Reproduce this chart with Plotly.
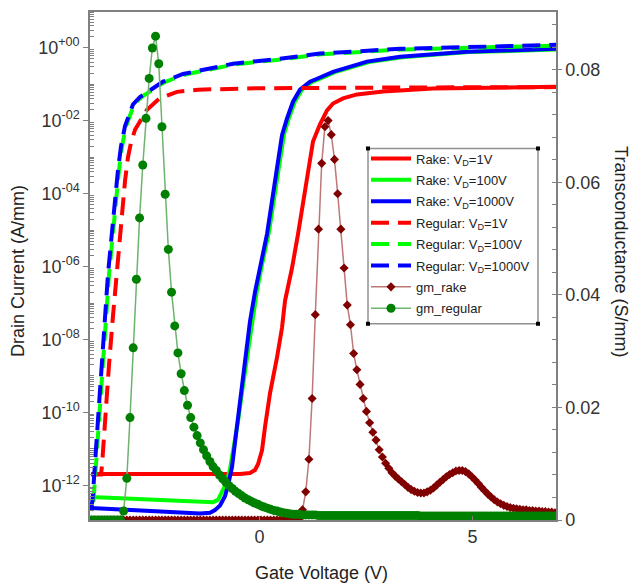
import numpy as np
import plotly.graph_objects as go

# ---------------------------------------------------------------------------
# Transfer curves: gate voltage (V) and drain current as log10(A/mm)
# ---------------------------------------------------------------------------
rake_1v_vg = [-3.955, -2.570, -0.458, -0.223, -0.106, -0.035, 0.059, 0.129, 0.246,
              0.410, 0.528, 0.599, 0.763, 0.904, 1.021, 1.139, 1.256, 1.420, 1.585,
              1.725, 1.960, 2.289, 2.899, 4.073, 5.646, 6.984]
rake_1v_log = [-11.69, -11.69, -11.69, -11.66, -11.58, -11.42, -11.04, -10.40, -9.48,
               -8.50, -7.68, -6.94, -6.04, -5.11, -4.21, -3.30, -2.57, -2.10, -1.72,
               -1.53, -1.39, -1.28, -1.20, -1.12, -1.09, -1.07]

rake_100v_vg = [-3.955, -2.570, -1.092, -0.974, -0.880, -0.786, -0.692, -0.599, -0.505,
                -0.411, -0.293, -0.176, -0.059, 0.059, 0.223, 0.340, 0.458, 0.575,
                0.692, 0.833, 0.998, 1.232, 1.397, 1.772, 2.570, 3.345, 4.918, 6.984]
rake_100v_log = [-12.32, -12.40, -12.46, -12.40, -12.20, -11.95, -11.55, -10.95, -10.25,
                 -9.45, -8.45, -7.45, -6.65, -5.95, -5.05, -4.15, -3.25, -2.38,
                 -1.92, -1.47, -1.15, -0.94, -0.86, -0.67, -0.39, -0.26, -0.12, -0.05]

rake_1000v_vg = [-3.955, -2.570, -1.397, -1.162, -1.045, -0.927, -0.810, -0.739, -0.646,
                 -0.552, -0.458, -0.340, -0.223, -0.106, 0.012, 0.176, 0.294, 0.411,
                 0.528, 0.646, 0.786, 0.951, 1.185, 1.350, 1.725, 2.523, 3.298, 4.871,
                 6.984]
rake_1000v_log = [-12.62, -12.70, -12.77, -12.75, -12.68, -12.55, -12.30, -12.00, -11.50,
                  -10.60, -9.70, -8.60, -7.50, -6.70, -6.00, -5.11, -4.20, -3.30,
                  -2.40, -1.94, -1.48, -1.15, -0.93, -0.85, -0.66, -0.38, -0.25, -0.11,
                  -0.03]

reg_1v_vg = [-3.955, -3.720, -3.697, -3.627, -3.533, -3.439, -3.345, -3.251, -3.157,
             -3.087, -3.016, -2.923, -2.782, -2.641, -2.336, -1.937, -1.444, 0.012,
             3.298, 6.984]
reg_1v_log = [-11.70, -11.70, -11.45, -10.10, -8.70, -7.35, -6.10, -4.90, -3.65,
              -3.00, -2.60, -2.25, -1.95, -1.70, -1.38, -1.21, -1.15, -1.11,
              -1.09, -1.08]

reg_100v_vg = [-3.955, -3.895, -3.860, -3.813, -3.766, -3.719, -3.672, -3.602, -3.531,
               -3.437, -3.367, -3.297, -3.226, -3.132, -3.038, -2.944, -2.780, -2.616,
               -2.428, -2.240, -1.771, -1.419, -0.597, 0.506, 1.445, 3.323, 5.201,
               6.984]
reg_100v_log = [-12.40, -12.40, -11.80, -11.00, -10.10, -9.30, -8.30, -7.20, -6.20,
                -5.05, -4.15, -3.35, -2.70, -2.15, -1.85, -1.56, -1.36, -1.23,
                -1.09, -0.95, -0.74, -0.65, -0.46, -0.32, -0.18, -0.05, 0.02,
                0.06]

reg_1000v_vg = [-3.955, -3.920, -3.885, -3.838, -3.791, -3.744, -3.697, -3.627, -3.556,
                -3.462, -3.392, -3.322, -3.251, -3.157, -3.063, -2.969, -2.805, -2.641,
                -2.453, -2.265, -1.796, -1.444, -0.622, 0.481, 1.420, 3.298, 5.176,
                6.984]
reg_1000v_log = [-12.70, -12.40, -11.80, -11.00, -10.10, -9.30, -8.30, -7.20, -6.20,
                 -5.05, -4.15, -3.35, -2.70, -2.15, -1.85, -1.55, -1.35, -1.22,
                 -1.07, -0.93, -0.72, -0.63, -0.44, -0.30, -0.16, -0.03, 0.04,
                 0.08]

# ---------------------------------------------------------------------------
# Transconductance (S/mm) on the uniform gate sweep
# ---------------------------------------------------------------------------
gm_vg = np.round(np.linspace(-3.94, 6.935, 146), 3)

gm_rake = [0.0] * 66 + [
    0.0018, 0.0050, 0.0108, 0.0216, 0.0365, 0.0517, 0.0634, 0.0699, 0.0710, 0.0685,
    0.0641, 0.0580, 0.0517, 0.0448, 0.0382, 0.0347, 0.0296, 0.0267, 0.0241, 0.0216,
    0.0193, 0.0173, 0.0156, 0.0142, 0.0125, 0.0112, 0.0101, 0.0092, 0.0084, 0.0078,
    0.0073, 0.0068, 0.0063, 0.0058, 0.0054, 0.0051, 0.0049, 0.0048, 0.0048, 0.0050,
    0.0053, 0.0057, 0.0062, 0.0067, 0.0072, 0.0077, 0.0081, 0.0084, 0.0087, 0.0088,
    0.0088, 0.0086, 0.0082, 0.0077, 0.0071, 0.0065, 0.0058, 0.0052, 0.0046, 0.0041,
    0.0036, 0.0032, 0.0029, 0.0026, 0.0024, 0.0022, 0.0021, 0.0020, 0.0019, 0.0018,
    0.0018, 0.0017, 0.0017, 0.0016, 0.0016, 0.0015, 0.0015, 0.0014, 0.0014, 0.0013,
]

gm_regular = [0.0] * 10 + [
    0.0016, 0.0074, 0.0182, 0.0306, 0.0428, 0.0537, 0.0631, 0.0714, 0.0785, 0.0839,
    0.0860, 0.0811, 0.0699, 0.0579, 0.0481, 0.0405, 0.0345, 0.0297, 0.0260, 0.0230,
    0.0204, 0.0182, 0.0165, 0.0150, 0.0137, 0.0125, 0.0114, 0.0104, 0.0095, 0.0088,
    0.0080, 0.0073, 0.0067, 0.0061, 0.0056, 0.0051, 0.0047, 0.0043, 0.0039, 0.0036,
    0.0033, 0.0030, 0.0028, 0.0025, 0.0023, 0.0021, 0.0019, 0.0017, 0.0016, 0.0014,
    0.0013, 0.0012, 0.0011, 0.0010, 0.0010, 0.0010, 0.0009, 0.0009, 0.0009, 0.0009,
    0.0009, 0.0008, 0.0008, 0.0008, 0.0008, 0.0008, 0.0008, 0.0008, 0.0008, 0.0008,
    0.0008, 0.0008, 0.0008, 0.0008, 0.0008, 0.0008, 0.0008, 0.0008, 0.0008, 0.0008,
    0.0008, 0.0008, 0.0008, 0.0008, 0.0008, 0.0008, 0.0008, 0.0008, 0.0008, 0.0008,
    0.0008, 0.0008, 0.0008, 0.0007, 0.0007, 0.0007, 0.0007, 0.0007, 0.0007, 0.0007,
    0.0007, 0.0007, 0.0007, 0.0007, 0.0007, 0.0007, 0.0007, 0.0007, 0.0007, 0.0007,
    0.0007, 0.0007, 0.0007, 0.0007, 0.0007, 0.0007, 0.0007, 0.0007, 0.0007, 0.0007,
    0.0007, 0.0007, 0.0007, 0.0007, 0.0007, 0.0007, 0.0007, 0.0007, 0.0007, 0.0007,
    0.0007, 0.0007, 0.0007, 0.0007, 0.0007, 0.0007,
]

# Labelled decades of the drain-current axis
id_label_exponents = [0, -2, -4, -6, -8, -10, -12]

# ---------------------------------------------------------------------------
FONT = "Liberation Sans, Arial, sans-serif"
RED, GREEN, BLUE = "#ff0000", "#00ff00", "#0000ff"
DASH = "18px,9px"

fig = go.Figure()

id_series = [
    ("Rake: V<sub>D</sub>=1V", rake_1v_vg, rake_1v_log, RED, "solid"),
    ("Rake: V<sub>D</sub>=100V", rake_100v_vg, rake_100v_log, GREEN, "solid"),
    ("Rake: V<sub>D</sub>=1000V", rake_1000v_vg, rake_1000v_log, BLUE, "solid"),
    ("Regular: V<sub>D</sub>=1V", reg_1v_vg, reg_1v_log, RED, DASH),
    ("Regular: V<sub>D</sub>=100V", reg_100v_vg, reg_100v_log, GREEN, DASH),
    ("Regular: V<sub>D</sub>=1000V", reg_1000v_vg, reg_1000v_log, BLUE, DASH),
]
for i, (name, vg, logid, color, dash) in enumerate(id_series):
    fig.add_trace(go.Scatter(
        x=vg, y=np.power(10.0, logid), name=name, mode="lines",
        line=dict(color=color, width=4, dash=dash),
        legendgroup=f"g{i}", yaxis="y",
    ))

fig.add_trace(go.Scatter(
    x=gm_vg, y=gm_rake, name="gm_rake", mode="lines+markers",
    line=dict(color="rgb(190,120,120)", width=1.5),
    marker=dict(symbol="diamond", size=7, color="#800000"),
    legendgroup="g6", yaxis="y2",
))
fig.add_trace(go.Scatter(
    x=gm_vg, y=gm_regular, name="gm_regular", mode="lines+markers",
    line=dict(color="rgb(110,180,110)", width=1.5),
    marker=dict(symbol="circle", size=9, color="#008000"),
    legendgroup="g7", yaxis="y2",
))

# Log-axis tick positions: labelled even decades, small ticks elsewhere
major_vals = [10.0 ** e for e in id_label_exponents]
major_text = [f"10<sup>{'+' if e >= 0 else '-'}{abs(e):02d}</sup>"
              for e in id_label_exponents]
minor_vals = [m * 10.0 ** e for e in range(-13, 1) for m in range(1, 10)
              if not (m == 1 and e in id_label_exponents)]

L, R, T, B = 90, 79, 10, 65
W, H = 635, 585
pw, ph = W - L - R, H - T - B


def px_x(p):
    return (p - L) / pw


def px_y(p):
    return (H - B - p) / ph


axis_col = "#808080"
tick_font = dict(family=FONT, size=18, color="#333333")

fig.update_layout(
    width=W, height=H,
    margin=dict(l=L, r=R, t=T, b=B),
    paper_bgcolor="white", plot_bgcolor="white",
    showlegend=True,
    xaxis=dict(
        range=[-3.979, 6.96], showgrid=False, zeroline=False,
        showline=True, linecolor=axis_col, linewidth=1.5, mirror=True,
        ticks="inside", ticklen=4, tickcolor=axis_col,
        tickvals=[0, 5], tickfont=tick_font,
    ),
    yaxis=dict(
        type="log", range=[-12.95, 0.98], showgrid=False, zeroline=False,
        showline=True, linecolor=axis_col, linewidth=1.5,
        tickmode="array", tickvals=major_vals, ticktext=major_text,
        ticks="outside", ticklen=5, tickcolor=axis_col, tickfont=tick_font,
        minor=dict(tickmode="array", tickvals=minor_vals, ticks="inside",
                   ticklen=4, tickcolor=axis_col),
    ),
    yaxis2=dict(
        overlaying="y", side="right", range=[0, 0.0903],
        showgrid=False, zeroline=False,
        showline=True, linecolor=axis_col, linewidth=1.5,
        tickmode="linear", tick0=0, dtick=0.02,
        ticks="outside", ticklen=4, tickcolor=axis_col, tickfont=tick_font,
        minor=dict(dtick=0.004, ticks="inside", ticklen=4, tickcolor=axis_col),
    ),
    legend=dict(
        x=px_x(366), y=px_y(142), xanchor="left", yanchor="top",
        bgcolor="rgba(0,0,0,0)", borderwidth=0,
        font=dict(family=FONT, size=13, color="#222222"),
        tracegroupgap=1.5, itemwidth=40,
    ),
)

# Legend frame with small corner markers
lx0, lx1, ly0, ly1 = 368, 538, 147, 323
fig.add_shape(type="rect", xref="paper", yref="paper",
              x0=px_x(lx0), x1=px_x(lx1), y0=px_y(ly1), y1=px_y(ly0),
              line=dict(color="#909090", width=1.5), fillcolor="white", layer="below")
for cx in (lx0, lx1):
    for cy in (ly0, ly1):
        fig.add_shape(type="rect", xref="paper", yref="paper",
                      x0=px_x(cx - 2), x1=px_x(cx + 2),
                      y0=px_y(cy + 2), y1=px_y(cy - 2),
                      line=dict(width=0), fillcolor="black", layer="above")

title_font = dict(family=FONT, size=18, color="#222222")
fig.add_annotation(text="Gate Voltage (V)", xref="paper", yref="paper",
                   x=px_x(321), y=px_y(573), xanchor="center", yanchor="middle",
                   showarrow=False, font=title_font)
fig.add_annotation(text="Drain Current (A/mm)", xref="paper", yref="paper",
                   x=px_x(18), y=px_y(270), xanchor="center", yanchor="middle",
                   textangle=-90, showarrow=False, font=title_font)
fig.add_annotation(text="Transconductance (S/mm)", xref="paper", yref="paper",
                   x=px_x(621), y=px_y(250), xanchor="center", yanchor="middle",
                   textangle=90, showarrow=False, font=title_font)

fig.write_html("out.html")
